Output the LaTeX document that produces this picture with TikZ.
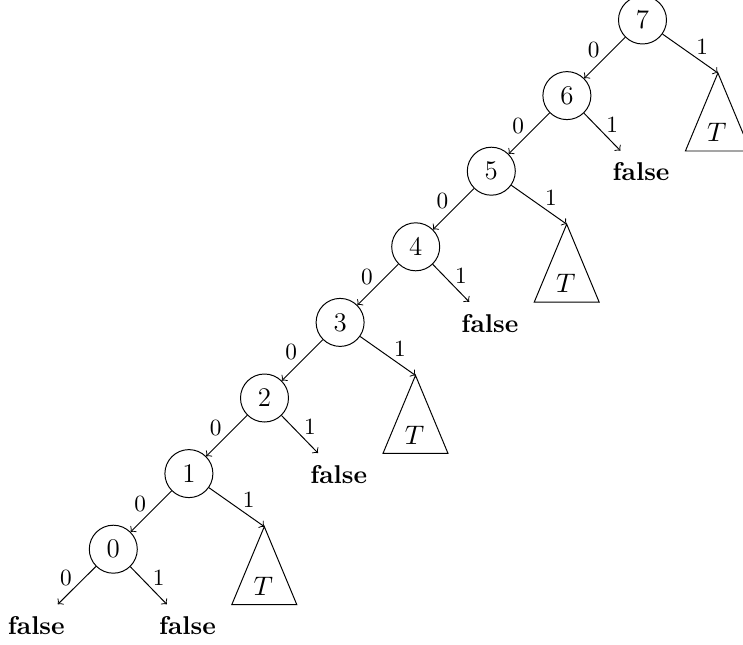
\documentclass[tikz,border=0pt]{standalone}
\begin{document}
\begin{tikzpicture}[x=0.4083pt,y=-0.4083pt,
  st/.style={draw,circle,minimum size=19.6pt,inner sep=0pt,line width=0.4pt,font=\fontsize{11}{13}\selectfont},
  arr/.style={->,line width=0.4pt},
  lz/.style={midway,xshift=-4.5pt,yshift=3.2pt,font=\fontsize{9.5}{11}\selectfont,inner sep=0pt},
  lf/.style={midway,xshift=4.1pt,yshift=3pt,font=\fontsize{9.5}{11}\selectfont,inner sep=0pt},
  lt/.style={midway,xshift=4.9pt,yshift=2.9pt,font=\fontsize{9.5}{11}\selectfont,inner sep=0pt},
  fl/.style={font=\fontsize{10.5}{12}\selectfont\bfseries,inner sep=2pt,outer sep=3pt},
  tri/.style={line width=0.4pt},
  tl/.style={inner sep=0pt,font=\fontsize{10.5}{12}\selectfont}]
\useasboundingbox (0,0) rectangle (743,644);
% states
\node[st] (n7) at (642.5,20) {7};
\node[st] (n6) at (566.9,95.6) {6};
\node[st] (n5) at (491.3,171.2) {5};
\node[st] (n4) at (415.7,246.8) {4};
\node[st] (n3) at (340.1,322.4) {3};
\node[st] (n2) at (264.5,398) {2};
\node[st] (n1) at (188.9,473.6) {1};
\node[st] (n0) at (113.3,549.2) {0};
% false leaves
\node[fl] (f6) at (641.1,172) {false};
\node[fl] (f4) at (489.9,323.2) {false};
\node[fl] (f2) at (338.7,474.4) {false};
\node[fl] (f0r) at (187.5,625.6) {false};
\node[fl] (f0l) at (36.3,625.6) {false};
% triangle apexes
\coordinate (a7) at (717.9,73);
\coordinate (a5) at (566.7,224.2);
\coordinate (a3) at (415.5,375.4);
\coordinate (a1) at (264.3,526.6);
\foreach \a in {a7,a5,a3,a1}{
  \draw[tri] (\a) -- ++(32.5,78) -- ++(-65,0) -- cycle;
}
\node[tl] (t7) at (716.9,132.5) {$T$};
\node[tl] (t5) at (565.7,283.7) {$T$};
\node[tl] (t3) at (414.5,434.9) {$T$};
\node[tl] (t1) at (263.3,586.1) {$T$};
% edges
\draw[arr] (n7) -- node[lz]{0} (n6);
\draw[arr] (n7) -- node[lt]{1} (a7);
\draw[arr] (n6) -- node[lz]{0} (n5);
\draw[arr] (n6) -- node[lf]{1} (f6);
\draw[arr] (n5) -- node[lz]{0} (n4);
\draw[arr] (n5) -- node[lt]{1} (a5);
\draw[arr] (n4) -- node[lz]{0} (n3);
\draw[arr] (n4) -- node[lf]{1} (f4);
\draw[arr] (n3) -- node[lz]{0} (n2);
\draw[arr] (n3) -- node[lt]{1} (a3);
\draw[arr] (n2) -- node[lz]{0} (n1);
\draw[arr] (n2) -- node[lf]{1} (f2);
\draw[arr] (n1) -- node[lz]{0} (n0);
\draw[arr] (n1) -- node[lt]{1} (a1);
\draw[arr] (n0) -- node[lz]{0} (f0l);
\draw[arr] (n0) -- node[lf]{1} (f0r);
\end{tikzpicture}
\end{document}
